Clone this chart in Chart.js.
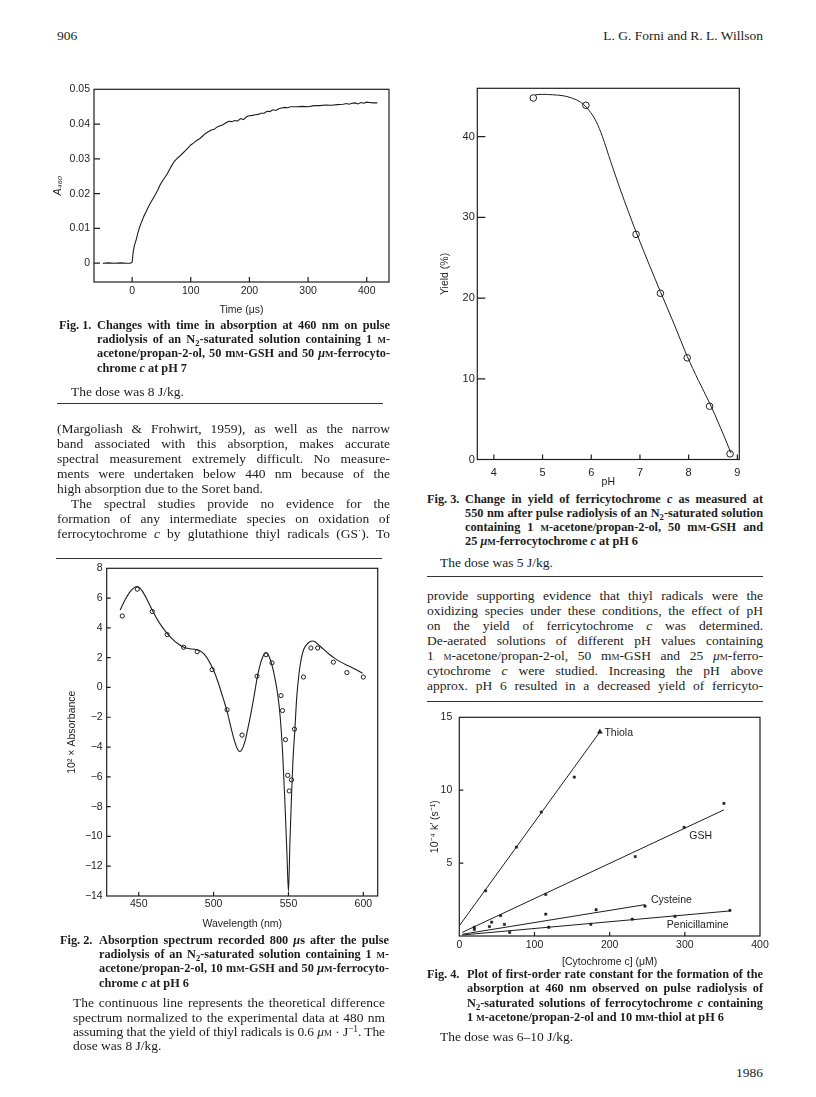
<!DOCTYPE html>
<html><head><meta charset="utf-8">
<script src="https://cdn.jsdelivr.net/npm/chart.js@4.4.1/dist/chart.umd.min.js"></script>
<style>
html,body{margin:0;padding:0;background:#fff;}
body{width:816px;height:1097px;position:relative;overflow:hidden;font-family:'Liberation Serif','Times New Roman',serif;color:#1c1c1c;}
canvas{position:absolute;}
.ln{position:absolute;line-height:16px;white-space:nowrap;}
.body{font-size:13.5px;}
.cap{font-size:12.3px;font-weight:bold;}
.sc{font-variant:small-caps;}
sub{font-size:70%;vertical-align:-0.3em;line-height:0;}
sup{font-size:70%;vertical-align:0.45em;line-height:0;}
.rule{position:absolute;height:0;border-top:1.2px solid #333;}
</style></head><body>
<script>
// ---------------- DATA ----------------
// Fig. 1 : A460 vs time (µs)
const fig1Time = [-50,-40,-30,-20,-10,-3,0,2,4,7,10,13,16,20,24,28,32,36,40,44,48,52,56,60,64,68,72,76,80,85,90,95,100,105,110,115,120,125,130,135,140,145,150,155,160,165,170,175,180,185,190,195,200,205,210,215,220,225,230,235,240,245,250,255,260,265,270,280,290,300,310,320,330,340,350,360,365,370,375,380,385,390,395,400,405,410,418];
const fig1A460 = [0,0.0001,0,0.0001,0,0,0.0003,0.0035,0.0052,0.0068,0.0088,0.0105,0.0118,0.0135,0.0149,0.0163,0.0175,0.0187,0.0198,0.0211,0.0226,0.0237,0.0247,0.0257,0.0270,0.0282,0.0293,0.0300,0.0306,0.0314,0.0322,0.0331,0.0340,0.0346,0.0353,0.0358,0.0365,0.0373,0.0378,0.0383,0.0385,0.0392,0.0395,0.0398,0.0404,0.0408,0.0407,0.0410,0.0409,0.0416,0.0413,0.0421,0.0424,0.0425,0.0427,0.0428,0.0431,0.0431,0.0437,0.0436,0.0441,0.0439,0.0444,0.0446,0.0448,0.0447,0.0450,0.0450,0.0451,0.0450,0.0453,0.0453,0.0455,0.0454,0.0456,0.0457,0.0459,0.0457,0.0460,0.0461,0.0458,0.0462,0.0460,0.0463,0.0462,0.0461,0.0461];
const fig1XTicks = [0,100,200,300,400];
const fig1XLabels = ['0','100','200','300','400'];
const fig1YTicks = [0,0.01,0.02,0.03,0.04,0.05];
const fig1YLabels = ['0','0.01','0.02','0.03','0.04','0.05'];

// Fig. 2 : absorption spectrum
const fig2PtWl  = [439,449,459,469,480,489,499,509,519,529,535,539,545,546,548,549.5,550.5,552,554,560,565,569.5,580,589,600];
const fig2PtAbs = [4.8,6.6,5.1,3.55,2.7,2.4,1.2,-1.5,-3.2,0.75,2.2,1.65,-0.55,-1.55,-3.5,-5.9,-6.95,-6.2,-2.8,0.7,2.65,2.65,1.7,1.0,0.7];
const fig2CurveWl  = [437.6,441,444,447,449,451,454,457,460,464,468,472,476,480,484,488,491,494,497,500,503,506,509,512,514,516,517.5,519,521,523,525,527,529,531,533,535,537,539,541,543,544.5,546,547.5,549,550,551,552,553,554.3,555.5,557,558.5,560,562,564,566,568,570,573,577,581,585,590,595,599.5];
const fig2CurveAbs = [5.2,5.9,6.4,6.7,6.78,6.65,6.2,5.6,5.0,4.3,3.75,3.3,2.95,2.7,2.6,2.55,2.45,2.2,1.75,1.15,0.35,-0.6,-1.6,-2.85,-3.6,-4.15,-4.3,-4.15,-3.6,-2.7,-1.7,-0.6,0.6,1.5,2.1,2.33,2.1,1.5,0.6,-0.6,-2.0,-4.2,-7.4,-11.2,-13.7,-10.3,-7.4,-4.9,-2.8,-0.7,0.9,1.9,2.5,2.85,3.05,3.12,3.05,2.88,2.6,2.25,1.95,1.7,1.45,1.2,0.95];
const fig2XTicks = [450,500,550,600];
const fig2XLabels = ['450','500','550','600'];
const fig2YTicks = [8,6,4,2,0,-2,-4,-6,-8,-10,-12,-14];
const fig2YLabels = ['8','6','4','2','0','\u22122','\u22124','\u22126','\u22128','\u221210','\u221212','\u221214'];

// Fig. 3 : yield vs pH
const fig3PH    = [4.81,5.89,6.92,7.42,7.97,8.43,8.85];
const fig3Yield = [44.8,43.9,27.9,20.6,12.6,6.6,0.7];
const fig3CurvePH    = [4.85,5.0,5.2,5.4,5.6,5.8,5.95,6.1,6.23,6.4,6.6,6.92,7.2,7.42,7.7,7.97,8.2,8.43,8.65,8.87];
const fig3CurveYield = [45.2,45.25,45.2,45.1,44.8,44.2,43.3,41.9,40.0,36.9,33.4,28.2,24.0,20.8,16.8,12.8,9.8,7.0,4.0,0.8];
const fig3XTicks = [4,5,6,7,8,9];
const fig3XLabels = ['4','5','6','7','8','9'];
const fig3YTicks = [0,10,20,30,40];
const fig3YLabels = ['0','10','20','30','40'];

// Fig. 4 : k' vs [cytochrome c]
const thiolaConc = [35,76,109,153];
const thiolaK    = [3.1,6.1,8.5,10.9];
const thiolaEndConc = [187];
const thiolaEndK    = [14.0];
const gshConc = [20,43,55,115,234,299,352];
const gshK    = [0.6,0.95,1.4,2.85,5.45,7.45,9.1];
const cysConc = [20,40,60,115,182,247];
const cysK    = [0.45,0.65,0.8,1.5,1.8,2.05];
const penConc = [67,119,175,230,287,360];
const penK    = [0.25,0.6,0.8,1.15,1.35,1.75];
const thiolaFitConc = [0,187];  const thiolaFitK = [0.7,14.0];
const gshFitConc = [4,352];     const gshFitK = [0.25,8.65];
const cysFitConc = [4,247];     const cysFitK = [0.12,2.15];
const penFitConc = [4,360];     const penFitK = [0.07,1.72];
const fig4Names  = ['Thiola','GSH','Cysteine','Penicillamine'];
const fig4LabelConc = [193,306,255,276];
const fig4LabelK    = [13.9,6.85,2.49,0.72];
const fig4XTicks = [0,100,200,300,400];
const fig4XLabels = ['0','100','200','300','400'];
const fig4YTicks = [5,10,15];
const fig4YLabels = ['5','10','15'];

// ---------------- HELPERS ----------------
const INK = '#1e1e1e';
const SANS = "'Liberation Sans', Arial, Helvetica, sans-serif";
const zip = (xs, ys) => xs.slice(0, Math.min(xs.length, ys.length)).map((x, i) => ({x, y: ys[i]}));

const framePlugin = {
  id: 'frame',
  afterDraw(chart, args, o) {
    const {ctx, chartArea: a} = chart;
    const xs = chart.scales.x, ys = chart.scales.y;
    ctx.save();
    ctx.strokeStyle = INK; ctx.lineWidth = o.lw || 1.2;
    ctx.strokeRect(a.left, a.top, a.right - a.left, a.bottom - a.top);
    ctx.beginPath();
    xs.ticks.forEach(t => { const p = xs.getPixelForValue(t.value); if (p > a.left + 1 && p < a.right - 1) { ctx.moveTo(p, a.bottom); ctx.lineTo(p, a.bottom - o.xLen); } });
    ys.ticks.forEach(t => { const p = ys.getPixelForValue(t.value); if (p > a.top + 1 && p < a.bottom - 1) { ctx.moveTo(a.left, p); ctx.lineTo(a.left + o.yLen, p); } });
    ctx.stroke();
    ctx.restore();
  }
};

function scaleOpts(c, horiz, fit) {
  return {
    type: 'linear', position: horiz ? 'bottom' : 'left', min: c.min, max: c.max,
    grid: {display: false, drawTicks: false, tickLength: 0}, border: {display: false},
    afterBuildTicks: s => { s.ticks = c.ticks.map(v => ({value: v})); },
    afterFit: s => { if (horiz) s.height = fit; else s.width = fit; },
    ticks: {autoSkip: false, maxRotation: 0, minRotation: 0, padding: c.labelPad, color: INK,
      font: {family: SANS, size: c.size || 10.5}, callback: (v, i) => c.labels[i]},
    title: {display: true, text: c.title, color: INK,
      font: {family: SANS, size: c.tsize || 10.5, style: c.tstyle || 'normal'},
      padding: horiz ? {top: 0, bottom: c.titlePad} : {top: c.titlePad, bottom: 0}}
  };
}

function makeChart(box, area, xc, yc, datasets, frameOpts, extra) {
  const cv = document.createElement('canvas');
  cv.width = box.w; cv.height = box.h;
  Object.assign(cv.style, {left: box.x + 'px', top: box.y + 'px', width: box.w + 'px', height: box.h + 'px'});
  document.body.appendChild(cv);
  const padTop = area.t - box.y, padRight = box.x + box.w - area.r;
  const yW = area.l - box.x, xH = box.y + box.h - area.b;
  return new Chart(cv, {
    type: 'scatter',
    data: {datasets},
    options: {
      responsive: false, animation: false, devicePixelRatio: 1,
      layout: {padding: {top: padTop, right: padRight, left: 0, bottom: 0}},
      scales: {x: scaleOpts(xc, true, xH), y: scaleOpts(yc, false, yW)},
      plugins: {legend: {display: false}, tooltip: {enabled: false}, frame: frameOpts}
    },
    plugins: [framePlugin].concat(extra || [])
  });
}

const lineDS = (data, w, mono) => ({data, showLine: true, pointRadius: 0, borderColor: INK, borderWidth: w,
  cubicInterpolationMode: mono ? 'monotone' : 'default', tension: 0, fill: false});
const circleDS = (data, r) => ({data, showLine: false, pointRadius: r, pointStyle: 'circle',
  pointBackgroundColor: '#fff', pointBorderColor: INK, pointBorderWidth: 1});
const squareDS = (data, r, style) => ({data, showLine: false, pointRadius: r, pointStyle: style || 'rect',
  pointBackgroundColor: INK, pointBorderColor: INK, pointBorderWidth: 0.5});

// ---------------- CHARTS ----------------
// Fig 1
makeChart({x: 40, y: 79, w: 360, h: 240}, {l: 94, t: 89, r: 389, b: 282},
  {min: -65, max: 438, ticks: fig1XTicks, labels: fig1XLabels, title: 'Time (\u03bcs)', titlePad: 2.7, labelPad: 3},
  {min: -0.0054, max: 0.05, ticks: fig1YTicks, labels: fig1YLabels, title: 'A\u2084\u2086\u2080', tstyle: 'italic', titlePad: 12, labelPad: 4},
  [lineDS(zip(fig1Time, fig1A460), 1.1, false)],
  {xLen: 5, yLen: 6, lw: 1.2});

// Fig 2
makeChart({x: 50, y: 558, w: 340, h: 375}, {l: 106.7, t: 567.8, r: 377.7, b: 896},
  {min: 428.6, max: 609.6, ticks: fig2XTicks, labels: fig2XLabels, title: 'Wavelength (nm)', titlePad: 2.7, labelPad: 2},
  {min: -14, max: 8, ticks: fig2YTicks, labels: fig2YLabels, title: '10\u00b2 \u00d7 Absorbance', titlePad: 15.4, labelPad: 4},
  [lineDS(zip(fig2CurveWl, fig2CurveAbs), 1.1, true), circleDS(zip(fig2PtWl, fig2PtAbs), 2.1)],
  {xLen: 4, yLen: 4, lw: 1.2});

// Fig 3
makeChart({x: 425, y: 78, w: 330, h: 412}, {l: 477.3, t: 88.3, r: 739.3, b: 459.5},
  {min: 3.66, max: 9.04, ticks: fig3XTicks, labels: fig3XLabels, title: 'pH', titlePad: 1.7, labelPad: 6.5, size: 11},
  {min: 0, max: 46.0, ticks: fig3YTicks, labels: fig3YLabels, title: 'Yield (%)', titlePad: 13.7, labelPad: 2.5, size: 11},
  [lineDS(zip(fig3CurvePH, fig3CurveYield), 1.0, true), circleDS(zip(fig3PH, fig3Yield), 3.3)],
  {xLen: 5, yLen: 8, lw: 1.2});

// Fig 4
const fig4LabelPlugin = {
  id: 'curveLabels',
  afterDatasetsDraw(chart) {
    const {ctx} = chart, x = chart.scales.x, y = chart.scales.y;
    ctx.save();
    ctx.font = '10.5px ' + SANS; ctx.fillStyle = INK; ctx.textAlign = 'left'; ctx.textBaseline = 'middle';
    fig4Names.forEach((n, i) => ctx.fillText(n, x.getPixelForValue(fig4LabelConc[i]), y.getPixelForValue(fig4LabelK[i])));
    ctx.restore();
  }
};
makeChart({x: 415, y: 704, w: 360, h: 270}, {l: 459.3, t: 714.3, r: 760, b: 936},
  {min: 0, max: 400, ticks: fig4XTicks, labels: fig4XLabels, title: '[Cytochrome c] (\u03bcM)', titlePad: 5.7, labelPad: 2.7},
  {min: 0, max: 15, ticks: fig4YTicks, labels: fig4YLabels, title: '10\u207b\u2074 k\u2032 (s\u207b\u00b9)', titlePad: 13.7, labelPad: 7},
  [lineDS(zip(thiolaFitConc, thiolaFitK), 1.0), lineDS(zip(gshFitConc, gshFitK), 1.0),
   lineDS(zip(cysFitConc, cysFitK), 1.0), lineDS(zip(penFitConc, penFitK), 1.0),
   squareDS(zip(thiolaConc, thiolaK), 1.6), squareDS(zip(thiolaEndConc, thiolaEndK), 2.8, 'triangle'),
   squareDS(zip(gshConc, gshK), 1.6), squareDS(zip(cysConc, cysK), 1.6), squareDS(zip(penConc, penK), 1.6)],
  {xLen: 4, yLen: 4, lw: 1.2}, [fig4LabelPlugin]);

// ---------------- TEXT ----------------
const SC = '<span class="sc">m</span>';
const MU = '<i>\u03bc</i>';
function addLine(s) {
  const d = document.createElement('div');
  d.className = 'ln ' + (s.c || 'body');
  d.style.left = s.x + 'px';
  d.style.top = (s.y - 8) + 'px';
  const sp = document.createElement('span');
  sp.innerHTML = s.h;
  d.appendChild(sp);
  document.body.appendChild(d);
  if (s.right) { d.style.left = 'auto'; d.style.right = (816 - s.right) + 'px'; }
  if (s.w) {
    const nat = sp.getBoundingClientRect().width;
    if (nat > s.w - 0.5) {
      const n = sp.textContent.length;
      sp.style.letterSpacing = ((s.w - nat - 1.5) / n) + 'px';
    }
    if (s.j) {
      d.style.width = s.w + 'px';
      d.style.whiteSpace = 'normal';
      d.style.textAlign = 'justify';
      d.style.textAlignLast = 'justify';
    }
  }
}
function addRule(x1, x2, y) {
  const r = document.createElement('div');
  r.className = 'rule';
  Object.assign(r.style, {left: x1 + 'px', width: (x2 - x1) + 'px', top: y + 'px'});
  document.body.appendChild(r);
}
const lines = [
  {x: 57, y: 36, h: '906'},
  {right: 763, x: 0, y: 36, h: 'L. G. Forni and R. L. Willson'},
  // Fig 1 caption
  {x: 59, y: 325, c: 'cap', h: 'Fig. 1.'},
  {x: 97, y: 325, w: 293, j: 1, c: 'cap', h: 'Changes with time in absorption at 460 nm on pulse'},
  {x: 97, y: 339.2, w: 293, j: 1, c: 'cap', h: 'radiolysis of an N<sub>2</sub>-saturated solution containing 1 ' + SC + '-'},
  {x: 97, y: 353.4, w: 293, j: 1, c: 'cap', h: 'acetone/propan-2-ol, 50 m' + SC + '-GSH and 50 ' + MU + SC + '-ferrocyto-'},
  {x: 97, y: 367.6, c: 'cap', h: 'chrome <i>c</i> at pH 7'},
  {x: 71, y: 392, h: 'The dose was 8 J/kg.'},
  // left body
  {x: 57, y: 429, w: 333, j: 1, h: '(Margoliash &amp; Frohwirt, 1959), as well as the narrow'},
  {x: 57, y: 444, w: 333, j: 1, h: 'band associated with this absorption, makes accurate'},
  {x: 57, y: 459, w: 333, j: 1, h: 'spectral measurement extremely difficult. No measure-'},
  {x: 57, y: 474, w: 333, j: 1, h: 'ments were undertaken below 440 nm because of the'},
  {x: 57, y: 489, h: 'high absorption due to the Soret band.'},
  {x: 71, y: 504, w: 319, j: 1, h: 'The spectral studies provide no evidence for the'},
  {x: 57, y: 519, w: 333, j: 1, h: 'formation of any intermediate species on oxidation of'},
  {x: 57, y: 534, w: 333, j: 1, h: 'ferrocytochrome <i>c</i> by glutathione thiyl radicals (GS<sup>\u00b7</sup>). To'},
  // Fig 2 caption
  {x: 60, y: 940, c: 'cap', h: 'Fig. 2.'},
  {x: 99, y: 940, w: 290, j: 1, c: 'cap', h: 'Absorption spectrum recorded 800 ' + MU + 's after the pulse'},
  {x: 99, y: 954.2, w: 290, j: 1, c: 'cap', h: 'radiolysis of an N<sub>2</sub>-saturated solution containing 1 ' + SC + '-'},
  {x: 99, y: 968.4, w: 290, j: 1, c: 'cap', h: 'acetone/propan-2-ol, 10 m' + SC + '-GSH and 50 ' + MU + SC + '-ferrocyto-'},
  {x: 99, y: 982.6, c: 'cap', h: 'chrome <i>c</i> at pH 6'},
  {x: 73, y: 1003.3, w: 312, j: 1, h: 'The continuous line represents the theoretical difference'},
  {x: 73, y: 1017.6, w: 312, j: 1, h: 'spectrum normalized to the experimental data at 480 nm'},
  {x: 73, y: 1031.9, w: 312, j: 1, h: 'assuming that the yield of thiyl radicals is 0.6 ' + MU + SC + ' \u00b7 J<sup>\u22121</sup>. The'},
  {x: 73, y: 1046.2, h: 'dose was 8 J/kg.'},
  // Fig 3 caption
  {x: 427, y: 498.5, c: 'cap', h: 'Fig. 3.'},
  {x: 465, y: 498.5, w: 298, j: 1, c: 'cap', h: 'Change in yield of ferricytochrome <i>c</i> as measured at'},
  {x: 465, y: 512.7, w: 298, j: 1, c: 'cap', h: '550 nm after pulse radiolysis of an N<sub>2</sub>-saturated solution'},
  {x: 465, y: 526.9, w: 298, j: 1, c: 'cap', h: 'containing 1 ' + SC + '-acetone/propan-2-ol, 50 m' + SC + '-GSH and'},
  {x: 465, y: 541.1, c: 'cap', h: '25 ' + MU + SC + '-ferrocytochrome <i>c</i> at pH 6'},
  {x: 440, y: 562.7, h: 'The dose was 5 J/kg.'},
  // right body
  {x: 427, y: 596, w: 336, j: 1, h: 'provide supporting evidence that thiyl radicals were the'},
  {x: 427, y: 611, w: 336, j: 1, h: 'oxidizing species under these conditions, the effect of pH'},
  {x: 427, y: 626, w: 336, j: 1, h: 'on the yield of ferricytochrome <i>c</i> was determined.'},
  {x: 427, y: 641, w: 336, j: 1, h: 'De-aerated solutions of different pH values containing'},
  {x: 427, y: 656, w: 336, j: 1, h: '1 ' + SC + '-acetone/propan-2-ol, 50 m' + SC + '-GSH and 25 ' + MU + SC + '-ferro-'},
  {x: 427, y: 671, w: 336, j: 1, h: 'cytochrome <i>c</i> were studied. Increasing the pH above'},
  {x: 427, y: 686, w: 336, j: 1, h: 'approx. pH 6 resulted in a decreased yield of ferricyto-'},
  // Fig 4 caption
  {x: 427, y: 974, c: 'cap', h: 'Fig. 4.'},
  {x: 467, y: 974, w: 296, j: 1, c: 'cap', h: 'Plot of first-order rate constant for the formation of the'},
  {x: 467, y: 988.3, w: 296, j: 1, c: 'cap', h: 'absorption at 460 nm observed on pulse radiolysis of'},
  {x: 467, y: 1002.6, w: 296, j: 1, c: 'cap', h: 'N<sub>2</sub>-saturated solutions of ferrocytochrome <i>c</i> containing'},
  {x: 467, y: 1016.9, c: 'cap', h: '1 ' + SC + '-acetone/propan-2-ol and 10 m' + SC + '-thiol at pH 6'},
  {x: 440, y: 1036.7, h: 'The dose was 6\u201310 J/kg.'},
  {right: 763, x: 0, y: 1073, h: '1986'}
];
lines.forEach(addLine);
addRule(57, 383, 403);
addRule(56, 382, 558);
addRule(427, 763, 576);
addRule(427, 763, 701);
</script>
</body></html>
